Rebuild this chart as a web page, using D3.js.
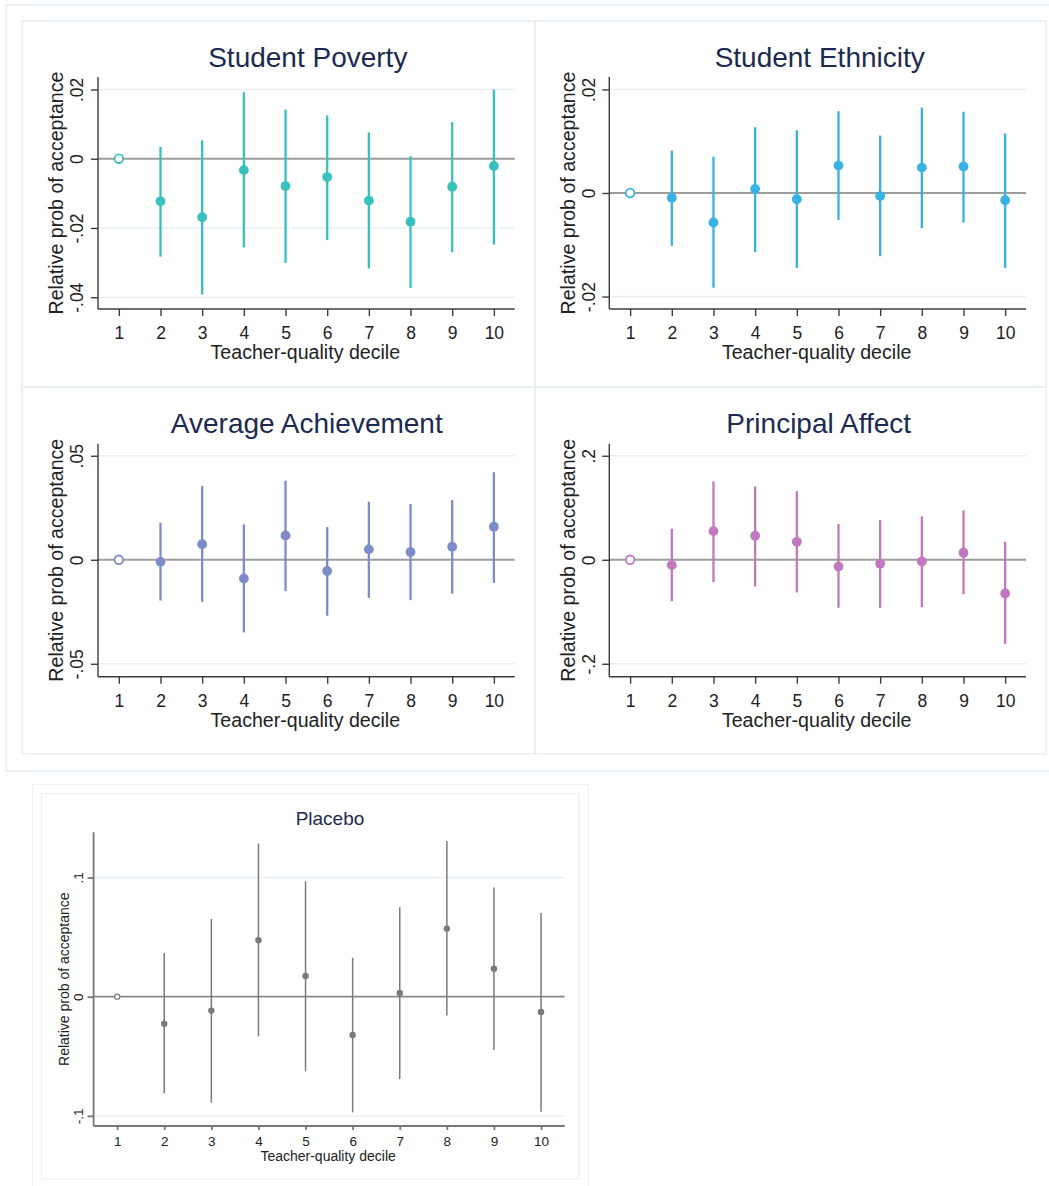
<!DOCTYPE html>
<html>
<head>
<meta charset="utf-8">
<script src="https://cdn.jsdelivr.net/npm/d3@7"></script>
<style>
  html, body { margin: 0; padding: 0; background: #fff; }
  svg { display: block; }
  text { font-family: "Liberation Sans", Arial, Helvetica, sans-serif; }
</style>
</head>
<body>
<svg id="chart" width="1049" height="1186"></svg>
<script>
// Teacher-quality deciles (decile 1 is the omitted base category)
const deciles = [1, 2, 3, 4, 5, 6, 7, 8, 9, 10];

// Student Poverty: point estimates and 95% CI bounds
const povertyEst = [0, -0.0123, -0.0169, -0.0033, -0.0079, -0.0053, -0.0121, -0.0182, -0.0081, -0.0021];
const povertyLo  = [0, -0.0283, -0.0392, -0.0256, -0.0301, -0.0235, -0.0317, -0.0373, -0.0270, -0.0248];
const povertyHi  = [0,  0.0034,  0.0053,  0.0192,  0.0142,  0.0125,  0.0076,  0.0007,  0.0106,  0.0200];
const povertyTicks = [-0.04, -0.02, 0, 0.02];
const povertyTickLabels = ["-.04", "-.02", "0", ".02"];

// Student Ethnicity
const ethnicityEst = [0, -0.0009, -0.0057,  0.0008, -0.0012,  0.0053, -0.0006,  0.0049,  0.0051, -0.0014];
const ethnicityLo  = [0, -0.0102, -0.0183, -0.0114, -0.0145, -0.0052, -0.0122, -0.0068, -0.0057, -0.0145];
const ethnicityHi  = [0,  0.0082,  0.0070,  0.0127,  0.0121,  0.0158,  0.0111,  0.0165,  0.0157,  0.0115];
const ethnicityTicks = [-0.02, 0, 0.02];
const ethnicityTickLabels = ["-.02", "0", ".02"];

// Average Achievement
const achievementEst = [0, -0.0010,  0.0075, -0.0090,  0.0117, -0.0054,  0.0050,  0.0037,  0.0063,  0.0159];
const achievementLo  = [0, -0.0196, -0.0202, -0.0349, -0.0151, -0.0269, -0.0183, -0.0194, -0.0163, -0.0111];
const achievementHi  = [0,  0.0178,  0.0354,  0.0170,  0.0380,  0.0157,  0.0279,  0.0268,  0.0287,  0.0421];
const achievementTicks = [-0.05, 0, 0.05];
const achievementTickLabels = ["-.05", "0", ".05"];

// Principal Affect
const affectEst = [0, -0.0103,  0.0551,  0.0462,  0.0346, -0.0128, -0.0077, -0.0032,  0.0135, -0.0647];
const affectLo  = [0, -0.0795, -0.0429, -0.0513, -0.0628, -0.0923, -0.0923, -0.0910, -0.0660, -0.1622];
const affectHi  = [0,  0.0596,  0.1506,  0.1410,  0.1321,  0.0686,  0.0763,  0.0833,  0.0949,  0.0346];
const affectTicks = [-0.2, 0, 0.2];
const affectTickLabels = ["-.2", "0", ".2"];

// Placebo
const placeboEst = [0, -0.0227, -0.0117,  0.0473,  0.0173, -0.0322,  0.0031,  0.0571,  0.0235, -0.0129];
const placeboLo  = [0, -0.0811, -0.0890, -0.0333, -0.0627, -0.0971, -0.0691, -0.0159, -0.0448, -0.0965];
const placeboHi  = [0,  0.0366,  0.0652,  0.1284,  0.0968,  0.0327,  0.0750,  0.1306,  0.0915,  0.0702];
const placeboTicks = [-0.1, 0, 0.1];
const placeboTickLabels = ["-.1", "0", ".1"];

const titles = ["Student Poverty", "Student Ethnicity", "Average Achievement", "Principal Affect", "Placebo"];
const yTitle = "Relative prob of acceptance";
const xTitle = "Teacher-quality decile";

const svg = d3.select("#chart");
const frameColor = "#e6eef0";

// Outer frames
svg.append("rect").attr("x", 6).attr("y", 5).attr("width", 1060).attr("height", 766)
  .attr("fill", "none").attr("stroke", frameColor).attr("stroke-width", 1.5);
[[22, 21, 513, 366], [535, 21, 511, 366], [22, 387, 513, 367], [535, 387, 511, 367]].forEach(r => {
  svg.append("rect").attr("x", r[0]).attr("y", r[1]).attr("width", r[2]).attr("height", r[3])
    .attr("fill", "none").attr("stroke", frameColor).attr("stroke-width", 1.5);
});
svg.append("rect").attr("x", 32.5).attr("y", 784.5).attr("width", 556).attr("height", 420)
  .attr("fill", "none").attr("stroke", "#edf2f2").attr("stroke-width", 1.2);
svg.append("rect").attr("x", 41.5).attr("y", 793.5).attr("width", 537.5).attr("height", 385.5)
  .attr("fill", "none").attr("stroke", "#edf1f1").attr("stroke-width", 1.2);

function drawPanel(cfg) {
  const g = svg.append("g");
  const x = d3.scaleLinear().domain([0.5, 10.5]).range([cfg.left, cfg.right]);
  const y = d3.scaleLinear().domain(cfg.ydom).range([cfg.bottom, cfg.top]);

  // light gridlines at labelled ticks
  g.selectAll(".grid").data(cfg.ticks.filter(t => t !== 0)).enter().append("line")
    .attr("x1", cfg.left).attr("x2", cfg.right)
    .attr("y1", d => y(d)).attr("y2", d => y(d))
    .attr("stroke", "#e8eff2").attr("stroke-width", cfg.gridW);

  // reference line at zero
  g.append("line").attr("x1", cfg.left).attr("x2", cfg.right)
    .attr("y1", y(0)).attr("y2", y(0))
    .attr("stroke", cfg.zeroColor).attr("stroke-width", cfg.zeroW);

  const rows = deciles.map((d, i) => ({ d, est: cfg.est[i], lo: cfg.lo[i], hi: cfg.hi[i] }));

  // confidence intervals
  g.selectAll(".ci").data(rows.filter(r => r.lo !== r.hi)).enter().append("line")
    .attr("x1", r => x(r.d)).attr("x2", r => x(r.d))
    .attr("y1", r => y(r.lo)).attr("y2", r => y(r.hi))
    .attr("stroke", cfg.color).attr("stroke-width", cfg.ciW);

  // point estimates: base decile drawn hollow
  g.selectAll(".pt").data(rows).enter().append("circle")
    .attr("cx", r => x(r.d)).attr("cy", r => y(r.est))
    .attr("r", r => r.d === 1 ? cfg.r - 0.6 : cfg.r)
    .attr("fill", r => r.d === 1 ? "#fff" : cfg.color)
    .attr("stroke", cfg.color)
    .attr("stroke-width", r => r.d === 1 ? cfg.hollowW : 0);

  // y axis
  const yAxis = g.append("g").attr("transform", `translate(${cfg.left},0)`)
    .call(d3.axisLeft(y).tickValues(cfg.ticks)
      .tickFormat((d, i) => cfg.tickLabels[i]).tickSize(cfg.yTick).tickPadding(0));
  yAxis.select(".domain").attr("d", `M0,${cfg.top}V${cfg.bottom}`)
    .attr("stroke", cfg.axisColor).attr("stroke-width", cfg.axisW);
  yAxis.selectAll(".tick line").attr("stroke", cfg.axisColor).attr("stroke-width", cfg.axisW);
  yAxis.selectAll(".tick text")
    .attr("x", null).attr("dy", null)
    .attr("text-anchor", "middle")
    .attr("transform", `translate(${-cfg.yTickOff},0) rotate(-90)`)
    .attr("font-size", cfg.tickFont).attr("fill", "#222");

  // x axis
  const xAxis = g.append("g").attr("transform", `translate(0,${cfg.bottom})`)
    .call(d3.axisBottom(x).tickValues(deciles).tickFormat(d3.format("d"))
      .tickSize(cfg.xTick).tickPadding(0));
  xAxis.select(".domain").attr("d", `M${cfg.left},0H${cfg.right}`)
    .attr("stroke", cfg.axisColor).attr("stroke-width", cfg.axisW);
  xAxis.selectAll(".tick line").attr("stroke", cfg.axisColor).attr("stroke-width", cfg.axisW);
  xAxis.selectAll(".tick text").attr("y", cfg.xTickOff).attr("dy", null)
    .attr("font-size", cfg.tickFont).attr("fill", "#222");
  yAxis.attr("font-family", null);
  xAxis.attr("font-family", null);

  // axis titles
  g.append("text")
    .attr("transform", `translate(${cfg.left - cfg.yTitleOff},${(cfg.top + cfg.bottom) / 2}) rotate(-90)`)
    .attr("text-anchor", "middle").attr("font-size", cfg.axisFont).attr("fill", "#222")
    .text(yTitle);
  g.append("text").attr("x", (cfg.left + cfg.right) / 2 - 1).attr("y", cfg.bottom + cfg.xTitleOff)
    .attr("text-anchor", "middle").attr("font-size", cfg.axisFont).attr("fill", "#222")
    .text(xTitle);

  // panel title
  g.append("text").attr("x", cfg.titleX).attr("y", cfg.titleY)
    .attr("text-anchor", "middle").attr("font-size", cfg.titleFont).attr("fill", "#1c2a52")
    .text(cfg.title);
}

const big = {
  titleFont: 28, axisFont: 19.6, tickFont: 17.5, r: 4.9, hollowW: 1.8, ciW: 2.3,
  gridW: 1.6, zeroW: 2, zeroColor: "#9c9c9c", axisColor: "#3c3c3c", axisW: 1.4,
  yTick: 7, xTick: 7, yTickOff: 14.8, xTickOff: 30, yTitleOff: 34.8, xTitleOff: 50
};

drawPanel(Object.assign({}, big, {
  title: titles[0], left: 98, right: 514.7, top: 77, bottom: 309, ydom: [-0.0434, 0.0236],
  titleX: 307.8, titleY: 67, color: "#38c1bd",
  est: povertyEst, lo: povertyLo, hi: povertyHi, ticks: povertyTicks, tickLabels: povertyTickLabels
}));
drawPanel(Object.assign({}, big, {
  title: titles[1], left: 609.3, right: 1026, top: 77, bottom: 309, ydom: [-0.0224, 0.0224],
  titleX: 819.7, titleY: 67, color: "#37b2e2",
  est: ethnicityEst, lo: ethnicityLo, hi: ethnicityHi, ticks: ethnicityTicks, tickLabels: ethnicityTickLabels
}));
drawPanel(Object.assign({}, big, {
  title: titles[2], left: 98, right: 514.7, top: 443.7, bottom: 676.7, ydom: [-0.0562, 0.0558],
  titleX: 306.8, titleY: 433.3, color: "#7d8cc8",
  est: achievementEst, lo: achievementLo, hi: achievementHi, ticks: achievementTicks, tickLabels: achievementTickLabels
}));
drawPanel(Object.assign({}, big, {
  title: titles[3], left: 609.3, right: 1026, top: 443.7, bottom: 676.7, ydom: [-0.2248, 0.2232],
  titleX: 818.7, titleY: 433.3, color: "#c178be",
  est: affectEst, lo: affectLo, hi: affectHi, ticks: affectTicks, tickLabels: affectTickLabels
}));
drawPanel({
  title: titles[4], left: 93.6, right: 564.6, top: 832.3, bottom: 1126, ydom: [-0.1085, 0.1379],
  titleX: 330, titleY: 825, titleFont: 19, axisFont: 14, tickFont: 13.5,
  r: 3.2, hollowW: 1.2, ciW: 1.5, gridW: 1.3, zeroW: 1.8, zeroColor: "#8a8a8a",
  axisColor: "#777", axisW: 1.8, yTick: 6, xTick: 4,
  yTickOff: 11.1, xTickOff: 19.5, yTitleOff: 24.3, xTitleOff: 34.5,
  color: "#7a7a7a",
  est: placeboEst, lo: placeboLo, hi: placeboHi, ticks: placeboTicks, tickLabels: placeboTickLabels
});
</script>
</body>
</html>
